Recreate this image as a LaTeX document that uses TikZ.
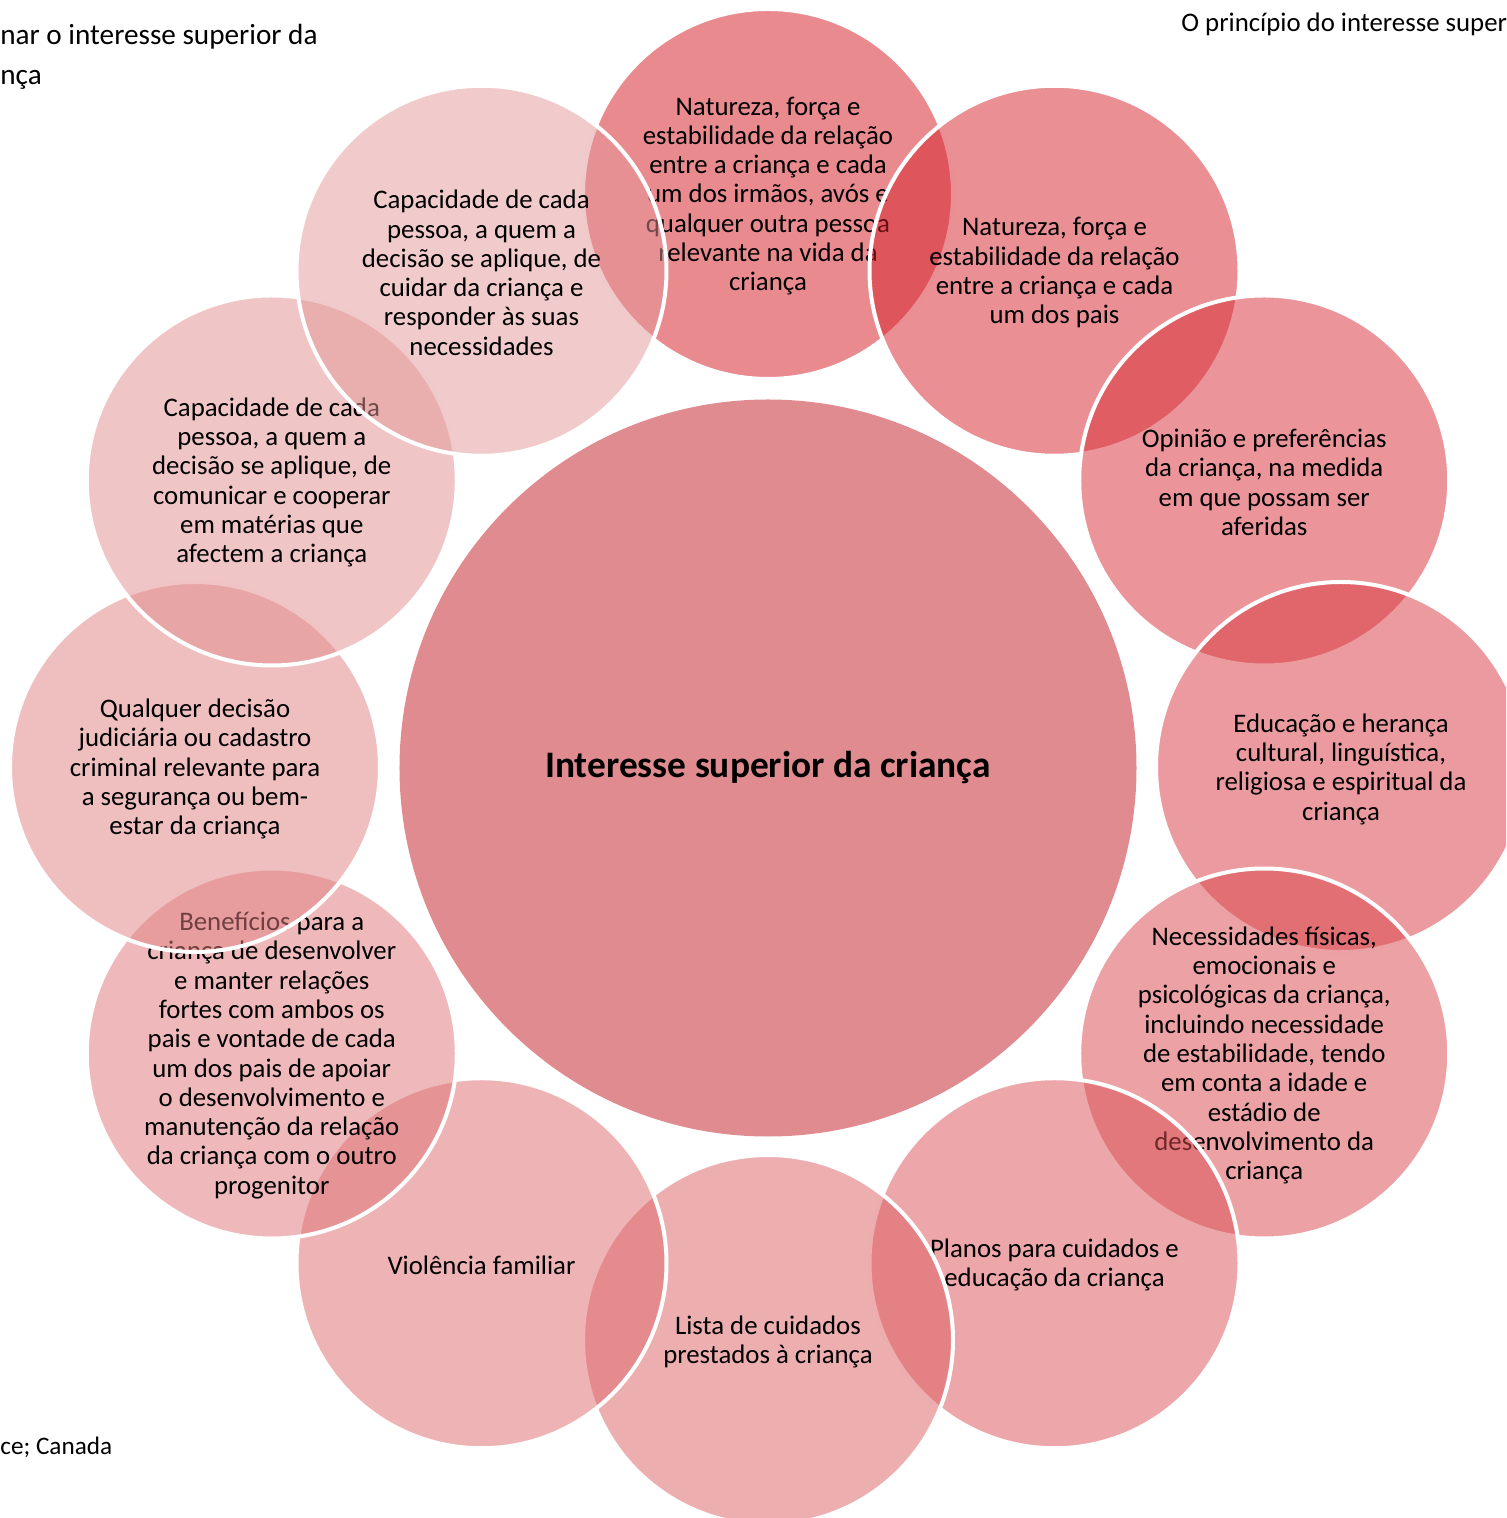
\documentclass[tikz,border=0pt]{standalone}
\usepackage{fontspec}
\setmainfont{Carlito}

\definecolor{hubfill}{RGB}{224,139,143}
\definecolor{satdark}{RGB}{212,21,31}
\definecolor{satlight}{RGB}{227,151,151}

\tikzset{
  hub/.style={circle, fill=hubfill, minimum size=368.5pt, inner sep=0pt, font=\fontsize{18.7}{22}\selectfont\bfseries},
  sat/.style={circle, draw=white, line width=2pt, minimum size=185pt, inner sep=0pt, fill opacity=0.5},
  satlabel/.style={align=center, inner sep=0pt, yshift=-1pt, font=\fontsize{13.4}{14.65}\selectfont},
  pagetext/.style={anchor=base west, inner sep=0pt, font=\fontsize{13.4}{16}\selectfont},
}

\begin{document}
\begin{tikzpicture}[x=0.5pt, y=0.5pt]
  \useasboundingbox (-768,-751) rectangle (738,767);
  \clip (-768,-751) rectangle (738,767);

  % running text of the page around the figure
  \node[pagetext, font=\fontsize{14.6}{18}\selectfont] (pgleft1) at (-768,722) {nar o interesse superior da};
  \node[pagetext, font=\fontsize{14.6}{18}\selectfont] (pgleft2) at (-768,682) {nça};
  \node[pagetext] (pgright) at (413,735) {O princípio do interesse super};
  \node[pagetext, font=\fontsize{12.6}{15}\selectfont] (pgbottom) at (-768,-687) {ce; Canada};

  \node[hub] (hub) at (0,-1) {Interesse superior da criança};

  % factors, clockwise from the top, shading from dark to light
  \foreach \i/\ang/\txt in {
      1/90/{Natureza, força e\\estabilidade da relação\\entre a criança e cada\\um dos irmãos, avós e\\qualquer outra pessoa\\relevante na vida da\\criança},
      2/60/{Natureza, força e\\estabilidade da relação\\entre a criança e cada\\um dos pais},
      3/30/{Opinião e preferências\\da criança, na medida\\em que possam ser\\aferidas},
      4/0/{Educação e herança\\cultural, linguística,\\religiosa e espiritual da\\criança},
      5/-30/{Necessidades físicas,\\emocionais e\\psicológicas da criança,\\incluindo necessidade\\de estabilidade, tendo\\em conta a idade e\\estádio de\\desenvolvimento da\\criança},
      6/-60/{Planos para cuidados e\\educação da criança},
      7/-90/{Lista de cuidados\\prestados à criança},
      8/-120/{Violência familiar},
      9/-150/{Benefícios para a\\criança de desenvolver\\e manter relações\\fortes com ambos os\\pais e vontade de cada\\um dos pais de apoiar\\o desenvolvimento e\\manutenção da relação\\da criança com o outro\\progenitor},
      10/180/{Qualquer decisão\\judiciária ou cadastro\\criminal relevante para\\a segurança ou bem-\\estar da criança},
      11/150/{Capacidade de cada\\pessoa, a quem a\\decisão se aplique, de\\comunicar e cooperar\\em matérias que\\afectem a criança},
      12/120/{Capacidade de cada\\pessoa, a quem a\\decisão se aplique, de\\cuidar da criança e\\responder às suas\\necessidades}} {
    \pgfmathtruncatemacro{\shade}{round(100*(\i-1)/11)}
    \node[sat, fill=satlight!\shade!satdark] (sat\i) at (\ang:573) {};
    \node[satlabel] (lab\i) at (sat\i) {\txt};
  }
\end{tikzpicture}
\end{document}
